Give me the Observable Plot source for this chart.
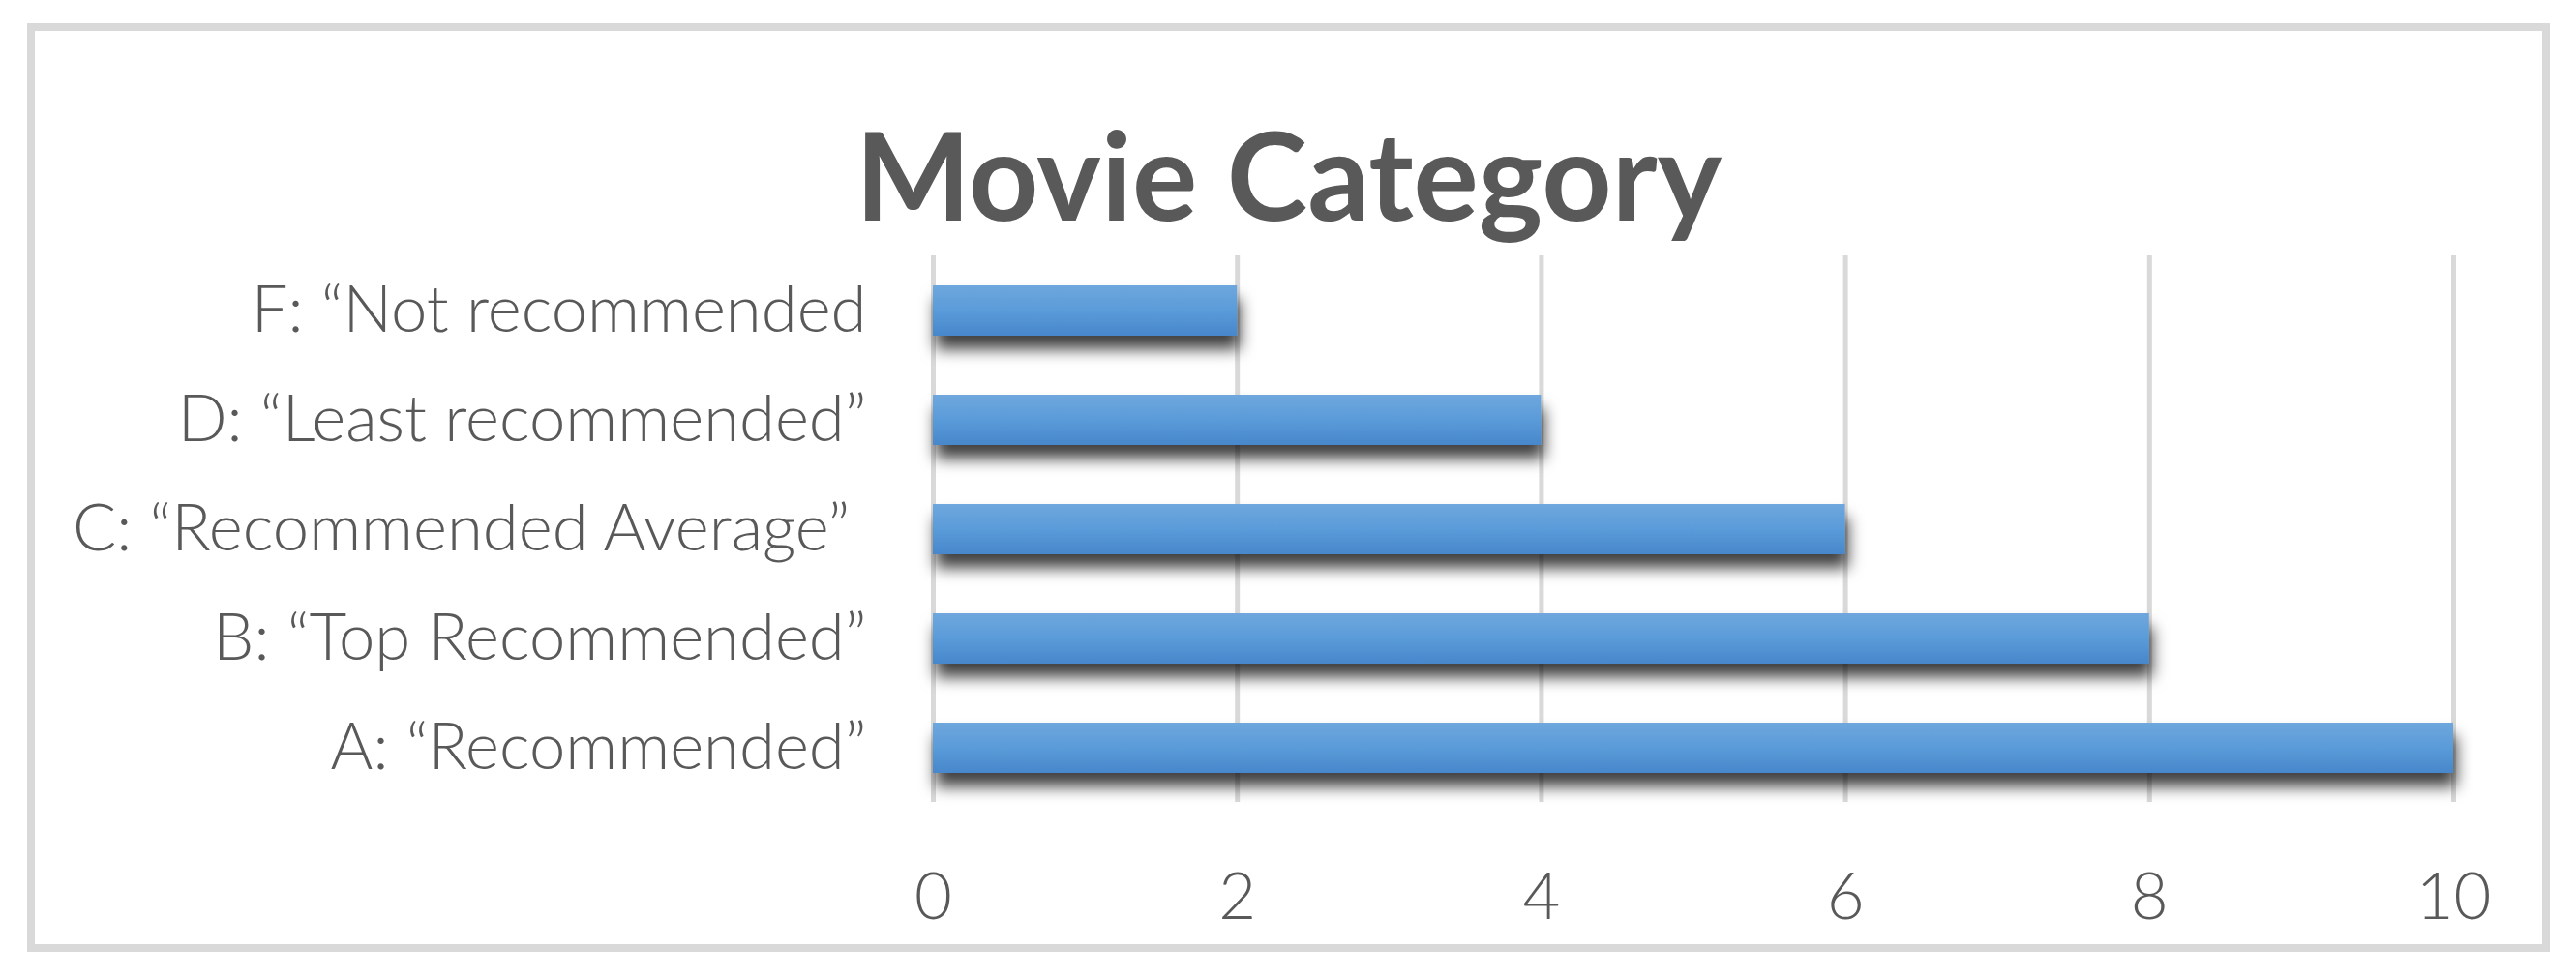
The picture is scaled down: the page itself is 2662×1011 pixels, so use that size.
<!DOCTYPE html>
<html>
<head>
<meta charset="utf-8">
<script src="https://cdn.jsdelivr.net/npm/d3@7"></script>
<script src="https://cdn.jsdelivr.net/npm/@observablehq/plot@0.6"></script>
<style>
  html, body { margin: 0; padding: 0; background: #ffffff; }
  #wrap { position: relative; width: 2662px; height: 1011px; overflow: hidden; background: #ffffff; }
  #border { position: absolute; left: 28px; top: 24px; width: 2591px; height: 944px; border: 8px solid #d9d9d9; }
  #title { position: absolute; left: 28px; width: 2607px; top: 117px; text-align: center;
           font-family: Lato, "Open Sans", sans-serif; font-weight: 700; font-size: 126px; line-height: 1; color: #595959; }
  #chart { position: absolute; left: 0; top: 0; }
</style>
</head>
<body>
<div id="wrap">
  <div id="border"></div>
  <div id="title"></div>
  <div id="chart"></div>
</div>
<script>
// ---- data ----
const title = "Movie Category";
const categories = [
  "F: \u201cNot recommended",
  "D: \u201cLeast recommended\u201d",
  "C: \u201cRecommended Average\u201d ",
  "B: \u201cTop Recommended\u201d",
  "A: \u201cRecommended\u201d"
];
const values = [2, 4, 6, 8, 10];
const xTicks = [0, 2, 4, 6, 8, 10];

document.getElementById("title").textContent = title;

const chart = Plot.plot({
  width: 2662,
  height: 1011,
  marginLeft: 964,
  marginRight: 127,
  marginTop: 264,
  marginBottom: 182,
  style: { fontFamily: "Lato, 'Open Sans', sans-serif", fontSize: "67px", fontWeight: 300, color: "#595959", background: "transparent" },
  x: { domain: [0, 10], ticks: 5, tickSize: 0, tickPadding: 73, label: null },
  y: { domain: categories, paddingInner: 0.54, paddingOuter: 0.27, align: 0.5, tickSize: 0, tickPadding: 69, label: null },
  marks: [
    Plot.ruleX(xTicks, { stroke: "#d9d9d9", strokeWidth: 5 }),
    Plot.barX(categories, { x: values, y: categories, fill: "url(#barGrad)" })
  ]
});

const svg = d3.select(chart);
const defs = svg.insert("defs", ":first-child");
const grad = defs.append("linearGradient").attr("id", "barGrad")
  .attr("x1", 0).attr("y1", 0).attr("x2", 0).attr("y2", 1);
grad.append("stop").attr("offset", "0%").attr("stop-color", "#6fa7dd");
grad.append("stop").attr("offset", "50%").attr("stop-color", "#5a9bd9");
grad.append("stop").attr("offset", "100%").attr("stop-color", "#4787cb");
const filt = defs.append("filter").attr("id", "barShadow")
  .attr("x", "-5%").attr("y", "-60%").attr("width", "115%").attr("height", "240%");
filt.append("feDropShadow").attr("dx", 3).attr("dy", 14).attr("stdDeviation", 8)
  .attr("flood-color", "#000").attr("flood-opacity", 0.75);
svg.select('g[aria-label="bar"]').attr("filter", "url(#barShadow)");

document.getElementById("chart").appendChild(chart);
</script>
</body>
</html>
